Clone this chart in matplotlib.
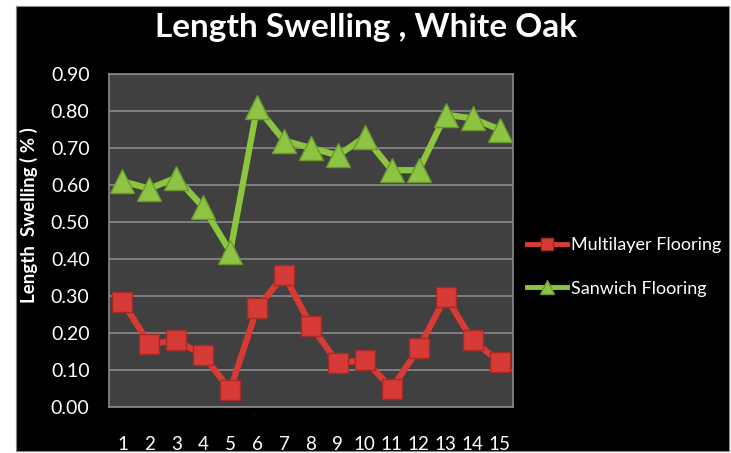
import matplotlib.pyplot as plt
from matplotlib.patches import Rectangle
from matplotlib.lines import Line2D

plt.rcParams['font.family'] = ['Lato', 'DejaVu Sans']

samples = [str(i) for i in range(1, 16)]
multilayer = [0.285, 0.17, 0.18, 0.14, 0.046, 0.267, 0.357, 0.22, 0.118, 0.127,
              0.05, 0.159, 0.298, 0.18, 0.122]
sandwich = [0.61, 0.59, 0.62, 0.54, 0.42, 0.81, 0.72, 0.70, 0.68, 0.73,
            0.64, 0.64, 0.79, 0.78, 0.75]
y_ticks = [0.0, 0.1, 0.2, 0.3, 0.4, 0.5, 0.6, 0.7, 0.8, 0.9]

W, H = 731, 453
fig = plt.figure(figsize=(W / 100, H / 100), dpi=100, facecolor='white')
# black chart panel with thin white margin
fig.patches.append(Rectangle((16 / W, 2 / H), 713 / W, 445 / H,
                             transform=fig.transFigure, facecolor='black',
                             edgecolor='#888888', linewidth=0.8, zorder=-10))

ax = fig.add_axes([109 / W, 46 / H, 404 / W, 333 / H])
ax.set_facecolor('#404040')

x = list(range(len(samples)))
red = '#d93a35'
green = '#8cc63f'
ax.plot(x, multilayer, color=red, linewidth=4.5, marker='s', markersize=15,
        markerfacecolor='#d63b37', markeredgecolor='#a82a27', markeredgewidth=1,
        solid_capstyle='round', zorder=3)
ax.plot(x, sandwich, color=green, linewidth=4.5, marker='^', markersize=17,
        markerfacecolor='#8dc444', markeredgecolor='#6a9a2e', markeredgewidth=1,
        solid_capstyle='round', zorder=3)

ax.set_xlim(-0.5, len(samples) - 0.5)
ax.set_ylim(0, 0.9)
ax.set_yticks(y_ticks)
ax.set_yticklabels([f'{v:.2f}' for v in y_ticks])
ax.set_xticks(x)
ax.set_xticklabels(samples)
ax.yaxis.grid(True, color='#8a8a8a', linewidth=1.2)
ax.set_axisbelow(True)
for s in ax.spines.values():
    s.set_color('#8a8a8a')
    s.set_linewidth(1.2)
ax.tick_params(axis='y', length=0, pad=14, colors='white', labelsize=14)
ax.tick_params(axis='x', length=0, pad=21, colors='white', labelsize=13.5)

ax.set_ylabel('Length  Swelling ( % )', color='white', fontsize=13.5,
              fontweight='bold')
ax.yaxis.set_label_coords(-0.176, 0.577)

fig.text(366 / W, 1 - 27 / H, 'Length Swelling , White Oak', color='white',
         fontsize=24, fontweight='bold', ha='center', va='center')

handles = [
    Line2D([], [], color=red, linewidth=3.5, marker='s', markersize=9,
           markerfacecolor='#d63b37', markeredgecolor='#a82a27'),
    Line2D([], [], color=green, linewidth=3.5, marker='^', markersize=10,
           markerfacecolor='#8dc444', markeredgecolor='#6a9a2e'),
]
leg = fig.legend(handles, ['Multilayer Flooring', 'Sanwich Flooring'],
                 loc='center left', bbox_to_anchor=(511 / W, 1 - 267 / H),
                 frameon=False, fontsize=13, labelcolor='white',
                 handlelength=2.2, handletextpad=0.25, labelspacing=1.5)

fig.savefig('out.png', dpi=100, facecolor='white')
